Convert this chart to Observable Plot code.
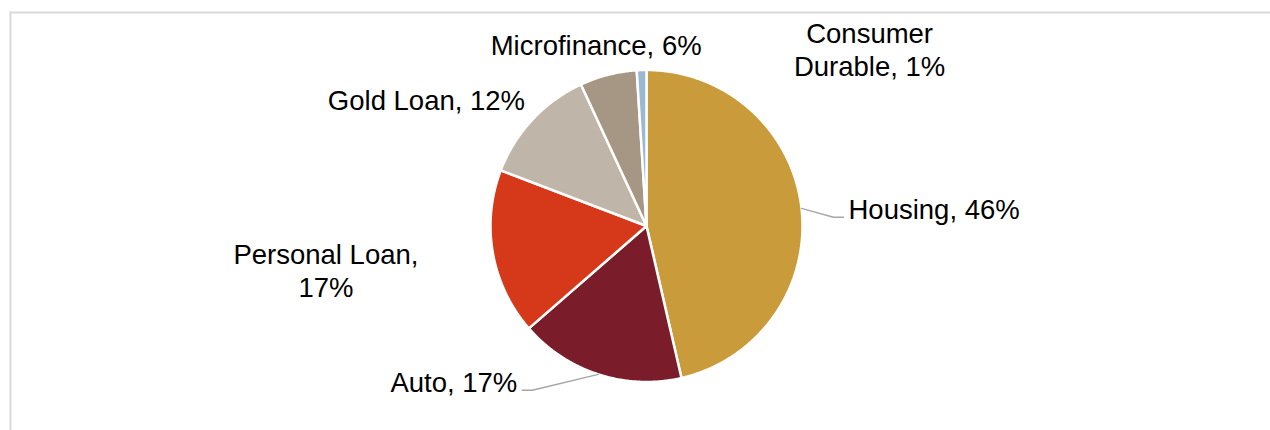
<!DOCTYPE html>
<html><head><meta charset="utf-8">
<script src="https://cdn.jsdelivr.net/npm/d3@7"></script>
<script src="https://cdn.jsdelivr.net/npm/@observablehq/plot@0.6"></script>
<style>html,body{margin:0;padding:0;background:#fff;} #chart{width:1270px;height:430px;}</style>
</head><body><div id="chart"></div>
<script>
// ---- data ----
const categories = ["Housing", "Auto", "Personal Loan", "Gold Loan", "Microfinance", "Consumer Durable"];
const shares = [46.4, 17.2, 17.2, 12.3, 5.9, 1.0];
const labelNames = ["Housing", "Auto", "Personal Loan", "Gold Loan", "Microfinance", "Consumer\nDurable"];
const labelSeparators = [", ", ", ", ",\n", ", ", ", ", ", "];
const colors = ["#C99B3B", "#7B1C2A", "#D6391A", "#BFB5A8", "#A69684", "#9BB8D3"];

// ---- layout (pixels) ----
const W = 1270, H = 430, CX = 646, CY = 225.5, R = 156;
const FONT = 27.5;
// label nudge from the slice's outer mid-point: [dx, dy, anchor, leader]
const labelLayout = [
  [47, 0, "start", true],
  [-81, 7, "end", true],
  [-167, 17, "middle", false],
  [-106, -20, "middle", false],
  [-12, -30, "middle", false],
  [228, -21, "middle", false]
];

const data = categories.map((c, i) => ({name: c, value: shares[i], i}));
const arcs = d3.pie().sort(null).value(d => d.value)(data);

// slice polygons in unit (data) space, y up
const slicePts = [];
arcs.forEach(a => {
  const name = a.data.name;
  slicePts.push({name, x: 0, y: 0});
  const n = Math.max(4, Math.ceil((a.endAngle - a.startAngle) / (Math.PI / 360)));
  for (let k = 0; k <= n; k++) {
    const t = a.startAngle + (a.endAngle - a.startAngle) * k / n;
    slicePts.push({name, x: Math.sin(t), y: Math.cos(t)});
  }
});

const labels = arcs.map(a => {
  const i = a.data.i;
  const mid = (a.startAngle + a.endAngle) / 2;
  return {
    i,
    x: Math.sin(mid), y: Math.cos(mid),
    text: labelNames[i] + labelSeparators[i] + Math.round(a.data.value) + "%"
  };
});

// leader lines (edge mid-point -> elbow -> label)
const leaderPts = [];
labels.forEach(l => {
  const [dx, dy, anchor, leader] = labelLayout[l.i];
  if (!leader) return;
  const side = anchor === "start" ? -1 : 1;
  const base = dy + 0.32 * FONT;
  leaderPts.push({k: l.i, x: l.x, y: l.y});
  leaderPts.push({k: l.i, x: l.x + (dx + side * 15) / R, y: l.y - base / R});
  leaderPts.push({k: l.i, x: l.x + (dx + side * 5) / R, y: l.y - base / R});
});

const marks = [
  Plot.frame({anchor: "top", stroke: "#D9D9D9", strokeWidth: 2}),
  Plot.frame({anchor: "left", stroke: "#D9D9D9", strokeWidth: 2}),
  Plot.line(slicePts, {x: "x", y: "y", z: "name", fill: "name", stroke: "white",
    strokeWidth: 2.5, strokeLinejoin: "round", curve: "linear-closed"}),
  Plot.line(leaderPts, {x: "x", y: "y", z: "k", stroke: "#A6A6A6", strokeWidth: 1.5})
];
labels.forEach(l => {
  const [dx, dy, anchor] = labelLayout[l.i];
  marks.push(Plot.text([l], {x: "x", y: "y", text: "text", dx, dy, textAnchor: anchor,
    fontSize: FONT, lineHeight: 1.19, fill: "#000", fontFamily: "Liberation Sans, Arial, sans-serif"}));
});

const chart = Plot.plot({
  width: W, height: H,
  marginTop: 12, marginLeft: 10, marginRight: 0, marginBottom: 0,
  x: {domain: [-1, 1], range: [CX - R, CX + R], axis: null},
  y: {domain: [-1, 1], range: [CY + R, CY - R], axis: null},
  color: {domain: categories, range: colors},
  style: {fontFamily: "Liberation Sans, Arial, sans-serif", background: "#fff"},
  marks
});
document.getElementById("chart").appendChild(chart);
</script>
</body></html>
